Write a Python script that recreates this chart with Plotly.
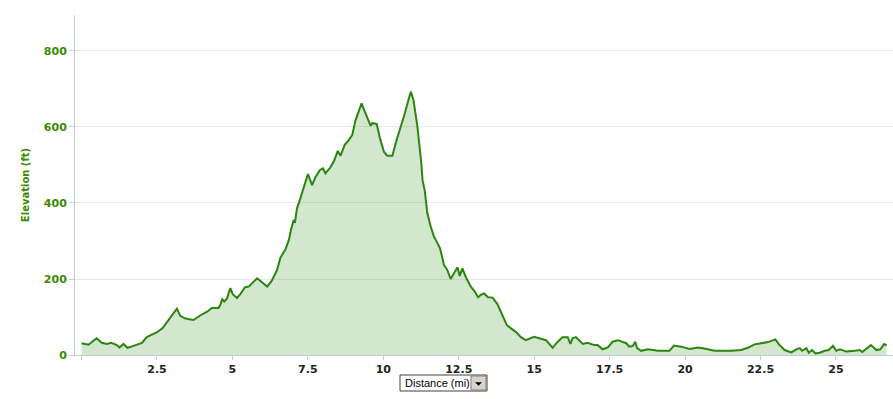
import plotly.graph_objects as go

distance_mi = [
    0.0, 0.23, 0.5, 0.67, 0.84, 0.98, 1.17, 1.26, 1.39, 1.52, 1.72, 2.0, 2.16, 2.35, 2.5,
    2.68, 2.88, 3.16, 3.27, 3.44, 3.71, 3.93, 4.16, 4.32, 4.54, 4.6, 4.66, 4.73, 4.82, 4.93,
    5.01, 5.15, 5.26, 5.41, 5.54, 5.82, 6.15, 6.3, 6.48, 6.59, 6.76, 6.87, 6.94, 7.03, 7.07,
    7.14, 7.25, 7.36, 7.5, 7.64, 7.75, 7.9, 8.0, 8.08, 8.25, 8.38, 8.49, 8.58, 8.72, 8.86,
    8.97, 9.08, 9.28, 9.41, 9.58, 9.63, 9.78, 9.89, 10.02, 10.13, 10.3, 10.44, 10.57, 10.68,
    10.8, 10.91, 11.0, 11.13, 11.26, 11.3, 11.37, 11.46, 11.57, 11.68, 11.74, 11.88, 12.01,
    12.12, 12.23, 12.37, 12.46, 12.53, 12.62, 12.73, 12.9, 13.03, 13.14, 13.23, 13.34, 13.47,
    13.62, 13.78, 13.95, 14.09, 14.23, 14.39, 14.56, 14.72, 15.0, 15.22, 15.39, 15.61, 15.78,
    15.94, 16.11, 16.2, 16.27, 16.38, 16.61, 16.77, 16.99, 17.1, 17.27, 17.44, 17.6, 17.77,
    17.94, 18.05, 18.15, 18.27, 18.35, 18.41, 18.54, 18.77, 19.1, 19.48, 19.63, 19.87, 20.15,
    20.43, 20.64, 20.98, 21.53, 21.86, 22.08, 22.3, 22.53, 22.75, 22.99, 23.13, 23.3, 23.52,
    23.69, 23.8, 23.88, 24.02, 24.1, 24.21, 24.32, 24.46, 24.63, 24.76, 24.9, 25.01, 25.13,
    25.35, 25.62, 25.79, 25.87, 26.04, 26.16, 26.34, 26.47, 26.6, 26.68,
]

elevation_ft = [
    31, 27, 44, 32, 29, 32, 26, 20, 29, 19, 24, 32, 47, 55, 60,
    70, 92, 122, 103, 96, 92, 104, 114, 124, 124, 132, 147, 141, 149, 176,
    160, 150, 160, 178, 180, 202, 180, 195, 224, 256, 278, 303, 329, 355, 348,
    386, 412, 443, 476, 447, 468, 487, 491, 478, 494, 513, 537, 524, 553, 566,
    579, 618, 662, 636, 603, 610, 608, 570, 535, 524, 524, 566, 597, 627,
    662, 693, 671, 601, 504, 460, 434, 373, 338, 311, 303, 281, 237,
    224, 200, 219, 231, 208, 228, 206, 180, 167, 152, 158, 162, 152,
    151, 134, 105, 79, 70, 61, 47, 39, 48, 44, 39, 19, 35,
    47, 47, 29, 44, 47, 29, 32, 26, 26, 15, 20, 35, 39,
    33, 31, 22, 24, 35, 18, 11, 15, 11, 11, 25, 22, 16,
    20, 17, 11, 11, 13, 19, 28, 31, 34, 41, 26, 13, 7,
    15, 18, 11, 18, 6, 13, 4, 6, 11, 13, 24, 11, 15,
    9, 11, 13, 8, 18, 26, 13, 15, 29, 26,
]

x_ticks = [0, 2.5, 5, 7.5, 10, 12.5, 15, 17.5, 20, 22.5, 25]
x_tick_labels = ["", "2.5", "5", "7.5", "10", "12.5", "15", "17.5", "20", "22.5", "25"]
y_ticks = [0, 200, 400, 600, 800]

fig = go.Figure()
fig.add_trace(go.Scatter(
    x=distance_mi, y=elevation_ft, mode="lines",
    line=dict(color="#2b8510", width=2),
    fill="tozeroy", fillcolor="rgba(60,150,40,0.23)",
    hoverinfo="skip", showlegend=False,
))

W, H = 893, 399
L, R, T, B = 75, 0, 15, 44
pw, ph = W - L - R, H - T - B

def px_x(p):
    return (p - L) / pw

def px_y(p):
    return (H - B - p) / ph

fig.update_layout(
    width=W, height=H,
    margin=dict(l=L, r=R, t=T, b=B),
    paper_bgcolor="white", plot_bgcolor="white",
    font=dict(family="DejaVu Sans", size=11, color="#222222"),
    xaxis=dict(
        range=[-0.217, 26.89], tickmode="array", tickvals=x_ticks, ticktext=x_tick_labels,
        showgrid=False, zeroline=False, showline=True, linecolor="#c0cbdc", linewidth=1,
        ticks="outside", ticklen=4, tickcolor="#c0cbdc",
        tickfont=dict(family="DejaVu Sans", size=11, color="#222222", weight="bold"),
        fixedrange=True,
    ),
    yaxis=dict(
        range=[0, 894.7], tickmode="array", tickvals=y_ticks,
        showgrid=True, gridcolor="#e8e8e8", gridwidth=1, zeroline=False,
        showline=True, linecolor="#c0cbdc", linewidth=1,
        ticks="outside", ticklen=5, tickcolor="#c0cbdc",
        tickfont=dict(family="DejaVu Sans", size=11, color="#3a8a00", weight="bold"),
        title=dict(text="Elevation (ft)", standoff=12,
                   font=dict(family="DejaVu Sans", size=10, color="#3a8a00", weight="bold")),
        fixedrange=True,
    ),
    shapes=[
        dict(type="rect", xref="paper", yref="paper",
             x0=px_x(400), x1=px_x(487), y0=px_y(391), y1=px_y(375),
             line=dict(color="#404040", width=1), fillcolor="white", layer="above"),
        dict(type="rect", xref="paper", yref="paper",
             x0=px_x(471), x1=px_x(486), y0=px_y(390), y1=px_y(376),
             line=dict(color="#808080", width=1), fillcolor="#d8d4cc", layer="above"),
        dict(type="path", xref="paper", yref="paper",
             path=f"M {px_x(475.5)} {px_y(382.5)} L {px_x(481.5)} {px_y(382.5)} L {px_x(478.5)} {px_y(385.5)} Z",
             line=dict(color="black", width=0.5), fillcolor="black", layer="above"),
    ],
    annotations=[
        dict(text="Distance (mi)", xref="paper", yref="paper",
             x=px_x(403), y=px_y(383), xanchor="left", yanchor="middle",
             showarrow=False, font=dict(family="Liberation Sans", size=11, color="black")),
    ],
)

fig.write_html("out.html", config={"displayModeBar": False},
               post_script="document.body.style.margin='0';document.body.style.padding='0';")
